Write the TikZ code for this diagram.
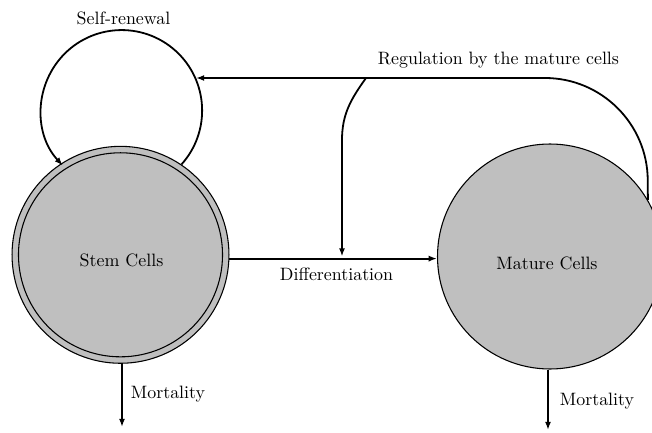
\documentclass[tikz,border=0pt]{standalone}
\usetikzlibrary{arrows.meta}
\begin{document}
\begin{tikzpicture}[x=0.5587pt,y=0.5587pt,
  cell/.style={circle, draw=black, line width=0.6pt, fill=lightgray, inner sep=0pt},
  ring/.style={circle, draw=black, line width=0.6pt, inner sep=0pt},
  conn/.style={line width=1pt, -{Latex[length=4.6pt,width=3.4pt]}},
  lab/.style={inner sep=0pt}]
\useasboundingbox (0,0) rectangle (652,432);
\clip (0,0) rectangle (652,432);
% cells
\node[cell, minimum size=121.2pt] (stem) at (120.5,177.2) {};
\node[ring, minimum size=114pt] (stemin) at (stem.center) {};
\node[lab] (stemtxt) at (121.5,172) {Stem Cells};
\node[cell, minimum size=125.7pt] (mature) at (550,175.5) {};
\node[lab] (mattxt) at (547,168.5) {Mature Cells};
% labels
\node[lab] (selflab) at (123.5,413.5) {Self-renewal};
\node[lab] (reglab) at (498.5,372) {Regulation by the mature cells};
\node[lab] (difflab) at (336.5,158) {Differentiation};
\node[lab] (mort1) at (168,38) {Mortality};
\node[lab] (mort2) at (597,31) {Mortality};
% coordinates
\coordinate (regc) at (647,354);
\coordinate (regend) at (196,354);
\coordinate (bst) at (366,354);
\coordinate (bc1) at (351,333);
\coordinate (bc2) at (342,318);
\coordinate (bmid) at (342,292);
\coordinate (btip) at (342,175.5);
\coordinate (sm) at (122,5);
\coordinate (mm) at (548,2);
% connectors
\draw[conn] (stem.56) arc[start angle=-42, end angle=223, radius=80.5];
\draw[conn, rounded corners=57pt] (mature.30) -- (regc) -- (regend);
\draw[conn] (bst) .. controls (bc1) and (bc2) .. (bmid) -- (btip);
\draw[conn] (stem.-2) -- (stem.-2 -| mature.west);
\draw[conn] (sm |- stem.south) -- (sm);
\draw[conn] (mm |- mature.south) -- (mm);
\end{tikzpicture}
\end{document}
